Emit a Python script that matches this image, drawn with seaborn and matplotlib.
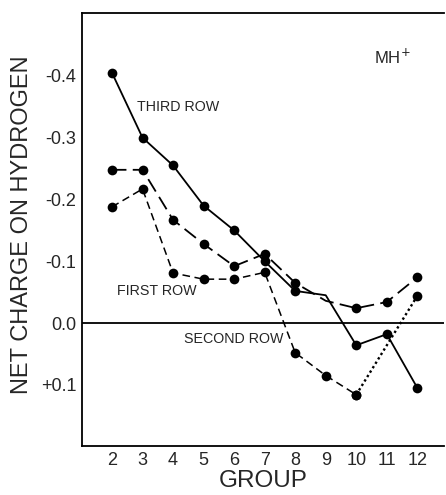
import numpy as np
import pandas as pd
import matplotlib
matplotlib.use("Agg")
import matplotlib.pyplot as plt
import seaborn as sns

# values (negative = up, the axis is inverted)
groups = [2, 3, 4, 5, 6, 7, 8, 9, 10, 11, 12]
third_row = [-0.405, -0.300, -0.255, -0.190, -0.150, -0.100, -0.052, -0.045, 0.036, 0.018, 0.105]
long_dash = [-0.248, -0.248, -0.167, -0.128, -0.092, -0.112, -0.065, -0.036, -0.024, -0.034, -0.074]
short_dash_groups = [2, 3, 4, 5, 6, 7, 8, 9, 10, 12]
short_dash = [-0.188, -0.217, -0.081, -0.071, -0.071, -0.082, 0.048, 0.085, 0.116, -0.044]

yticks = [-0.4, -0.3, -0.2, -0.1, 0.0, 0.1]
ytick_labels = ["-0.4", "-0.3", "-0.2", "-0.1", "0.0", "+0.1"]

sns.set_style("white")
plt.rcParams["font.family"] = ["Liberation Sans", "DejaVu Sans"]

fig = plt.figure(figsize=(4.46, 4.95), dpi=100)
ax = fig.add_axes([0.184, 0.099, 0.812, 0.875])

ms = 7
# third row: solid, no dot at group 9
sns.lineplot(x=groups, y=third_row, ax=ax, color="black", lw=1.3,
             marker="o", markersize=ms, markeredgewidth=0,
             markevery=[0, 1, 2, 3, 4, 5, 6, 8, 9, 10], sort=False)
# long dashed series, no dot at group 9
sns.lineplot(x=groups, y=long_dash, ax=ax, color="black", lw=1.3,
             linestyle=(0, (8, 3.5)), marker="o", markersize=ms, markeredgewidth=0,
             markevery=[0, 1, 2, 3, 4, 5, 6, 8, 9, 10], sort=False)
# short dashed series, dotted from 10 to 12
sns.lineplot(x=short_dash_groups[:9], y=short_dash[:9], ax=ax, color="black", lw=1.1,
             linestyle=(0, (5, 3)), marker="o", markersize=ms, markeredgewidth=0,
             sort=False)
sns.lineplot(x=short_dash_groups[8:], y=short_dash[8:], ax=ax, color="black", lw=1.7,
             linestyle=(0, (1, 1.2)), marker="o", markersize=ms, markeredgewidth=0,
             sort=False)

ax.axhline(0.0, color="black", lw=1.3, zorder=1)

ax.set_xlim(1.02, 12.88)
ax.set_ylim(0.199, -0.502)
ax.set_xticks(groups)
ax.set_xticklabels([str(g) for g in groups], fontsize=13)
ax.set_yticks(yticks)
ax.set_yticklabels(ytick_labels, fontsize=13)
ax.tick_params(axis="both", direction="in", length=6, width=1, color="black", pad=4)

for s in ["left", "top", "bottom"]:
    ax.spines[s].set_color("black")
    ax.spines[s].set_linewidth(1.3)
ax.spines["right"].set_visible(False)

ax.set_xlabel("GROUP", fontsize=17.5, labelpad=1)
ax.set_ylabel("NET CHARGE ON HYDROGEN", fontsize=17)
ax.yaxis.set_label_coords(-0.135, 0.51)

ax.text(2.82, -0.35, "THIRD ROW", fontsize=10.3, va="center", ha="left")
ax.text(2.16, -0.052, "FIRST ROW", fontsize=10.3, va="center", ha="left")
ax.text(4.35, 0.026, "SECOND ROW", fontsize=10.3, va="center", ha="left")
ax.text(10.57, -0.43, "MH$^{+}$", fontsize=12, va="center", ha="left")

fig.savefig("out.png", dpi=100)
